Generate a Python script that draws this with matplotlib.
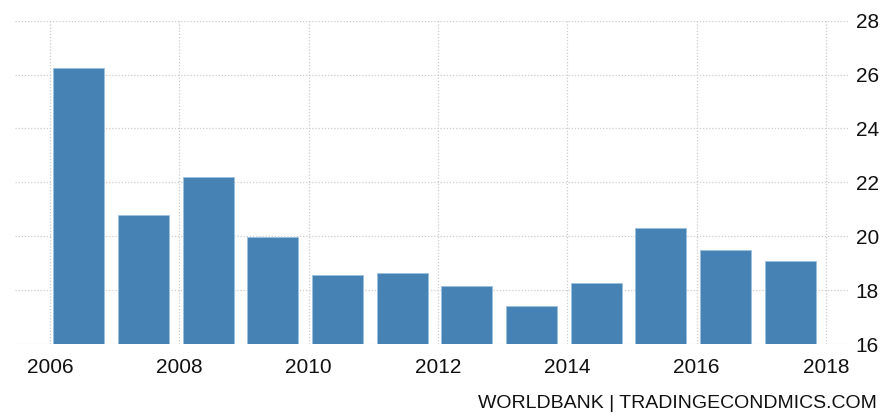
import matplotlib.pyplot as plt
import numpy as np

plt.rcParams['font.family'] = ['Liberation Sans', 'DejaVu Sans']

years = [2006, 2007, 2008, 2009, 2010, 2011, 2012, 2013, 2014, 2015, 2016, 2017]
values = [26.26, 20.77, 22.21, 19.97, 18.55, 18.64, 18.15, 17.40, 18.25, 20.30, 19.49, 19.07]
xticks = [2006, 2008, 2010, 2012, 2014, 2016, 2018]
yticks = [16, 18, 20, 22, 24, 26, 28]

fig = plt.figure(figsize=(8.91, 4.15), dpi=100)
ax = fig.add_axes([15 / 891, 1 - 344 / 415, 835 / 891, (344 - 20.7) / 415])

# bars sit in the middle of each year
x = np.array(years) + 0.445
ax.bar(x, values, width=0.79, bottom=0, color='#4682b4',
       edgecolor='#9cc0dc', linewidth=0.6, zorder=2)

ax.set_xlim(2005.46, 2018.37)
ax.set_ylim(16, 28)
ax.set_xticks(xticks)
ax.set_xticklabels([str(t) for t in xticks])
ax.set_yticks(yticks)
ax.yaxis.tick_right()
ax.tick_params(axis='both', length=0, labelsize=15, colors='#111111')
ax.tick_params(axis='x', pad=10)
ax.tick_params(axis='y', pad=4)

ax.grid(True, color='#cccccc', linestyle=(0, (1, 1.5)), linewidth=0.9, zorder=0)
ax.set_axisbelow(True)
for s in ax.spines.values():
    s.set_visible(False)

fig.text(877 / 891, 1 - 403 / 415, 'WORLDBANK | TRADINGECONDMICS.COM',
         ha='right', va='center', fontsize=14, color='#111111')

fig.savefig('out.png', dpi=100)
